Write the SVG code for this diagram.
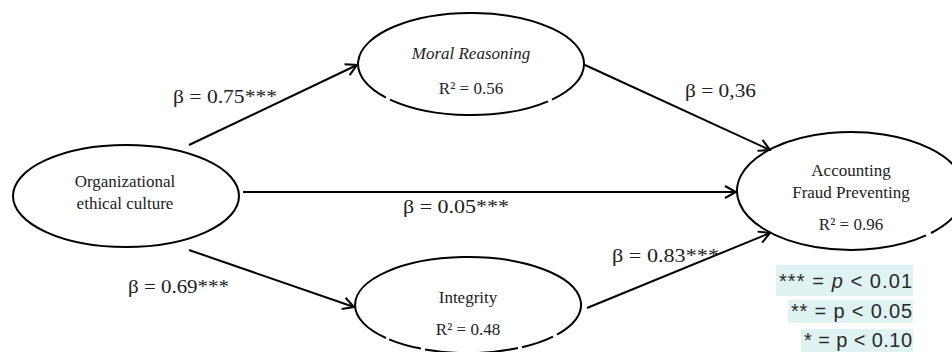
<svg xmlns="http://www.w3.org/2000/svg" width="952" height="352" viewBox="0 0 952 352">
<style>
.ring{fill:none;stroke:#000;stroke-width:2}
.nt{font-family:"Liberation Serif","Times New Roman",serif;font-size:17px;fill:#222;text-anchor:middle}
.lbl{font-family:"Liberation Serif","Times New Roman",serif;font-size:19px;fill:#222}
.edge{stroke:#000;stroke-width:2;fill:none;marker-end:url(#arr)}
.key{fill:#e0f3f3}
.kt{font-family:"Liberation Sans",Arial,sans-serif;font-size:20px;fill:#2a2a2a;text-anchor:end}
</style>
<defs>
<marker id="arr" viewBox="0 0 14 14" refX="13" refY="7" markerWidth="14" markerHeight="14" markerUnits="userSpaceOnUse" orient="auto">
<path d="M2,1 L13,7 L2,13" fill="none" stroke="#000" stroke-width="2"/>
</marker>
</defs>
<rect width="952" height="352" fill="#fff"/>
<g id="connectors">
<line class="edge" x1="189" y1="145" x2="357" y2="65"/>
<line class="edge" x1="243" y1="192" x2="736" y2="192"/>
<line class="edge" x1="189" y1="250" x2="354" y2="307"/>
<line class="edge" x1="585" y1="65" x2="770" y2="150"/>
<line class="edge" x1="587" y1="308" x2="770" y2="233"/>
</g>
<g id="node-org">
<ellipse class="ring" cx="126" cy="196" rx="113" ry="51"/>
<text class="nt" x="125" y="187">Organizational</text>
<text class="nt" x="125" y="209">ethical culture</text>
</g>
<g id="node-moral">
<path class="ring" d="M548,101.3 A113,51 0 0 1 390,99.6 M386,97.6 A113,51 0 1 1 552,99.6"/>
<text class="nt" x="471" y="59" font-style="italic">Moral Reasoning</text>
<text class="nt" x="471" y="94">R² = 0.56</text>
</g>
<g id="node-integrity">
<path class="ring" d="M553,336.6 A113,48 0 0 1 522,347.2 M518,348 A113,48 0 0 1 425,349.4 M421,348.6 A113,48 0 0 1 389,339.3 M386,338 A113,48 0 1 1 557,334.6"/>
<text class="nt" x="468" y="303">Integrity</text>
<text class="nt" x="468" y="335">R² = 0.48</text>
</g>
<g id="node-fraud">
<path class="ring" d="M926,235.4 A114,59 0 1 1 931,233"/>
<text class="nt" x="851" y="176">Accounting</text>
<text class="nt" x="851" y="198">Fraud Preventing</text>
<text class="nt" x="851" y="230">R² = 0.96</text>
</g>
<g id="labels">
<text class="lbl" x="173" y="103" textLength="104" lengthAdjust="spacingAndGlyphs">β = 0.75***</text>
<text class="lbl" x="128" y="293" textLength="101" lengthAdjust="spacingAndGlyphs">β = 0.69***</text>
<text class="lbl" x="403" y="213" textLength="106" lengthAdjust="spacingAndGlyphs">β = 0.05***</text>
<text class="lbl" x="685" y="97" textLength="71" lengthAdjust="spacingAndGlyphs">β = 0,36</text>
<text class="lbl" x="612" y="262" textLength="107" lengthAdjust="spacingAndGlyphs">β = 0.83***</text>
</g>
<g id="legend">
<rect class="key" x="776" y="265" width="137" height="31"/>
<rect class="key" x="788" y="300" width="125" height="23"/>
<rect class="key" x="801" y="329" width="112" height="23"/>
<text class="kt" x="912" y="288" textLength="133" lengthAdjust="spacing">*** = <tspan font-style="italic">p</tspan> &lt; 0.01</text>
<text class="kt" x="912" y="318" textLength="121" lengthAdjust="spacing">** = p &lt; 0.05</text>
<text class="kt" x="912" y="347" textLength="108" lengthAdjust="spacing">* = p &lt; 0.10</text>
</g>
</svg>
